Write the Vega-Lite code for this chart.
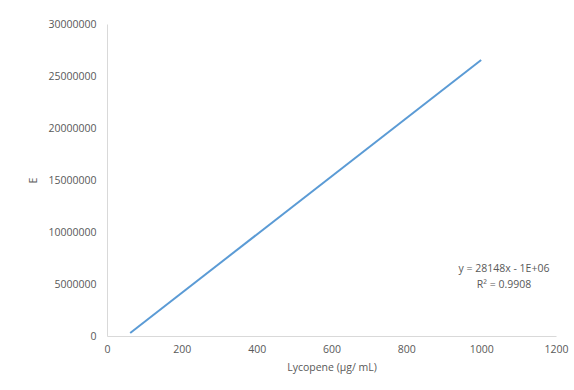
{
  "$schema": "https://vega.github.io/schema/vega-lite/v6.json",
  "width": 449,
  "height": 312,
  "autosize": {"type": "none"},
  "padding": {"left": 107, "top": 24, "right": 18, "bottom": 54},
  "background": "white",
  "config": {
    "view": {"stroke": null},
    "font": "Open Sans",
    "axis": {
      "labelFont": "Open Sans",
      "titleFont": "Open Sans",
      "labelFontSize": 10.5,
      "titleFontSize": 10.5,
      "labelColor": "#595959",
      "titleColor": "#595959",
      "titleFontWeight": "normal",
      "domainColor": "#d9d9d9",
      "ticks": false,
      "grid": false,
      "labelFlush": false,
      "labelOverlap": false
    }
  },
  "datasets": {
    "line": [
      {"lycopene": 62, "E": 290000},
      {"lycopene": 1000, "E": 26540000}
    ],
    "eq": [
      {"lycopene": 1061, "E": 6450000, "label": "y = 28148x - 1E+06"},
      {"lycopene": 1061, "E": 4950000, "label": "R² = 0.9908"}
    ]
  },
  "layer": [
    {
      "data": {"name": "line"},
      "mark": {"type": "line", "color": "#5B9BD5", "strokeWidth": 2},
      "encoding": {
        "x": {
          "field": "lycopene", "type": "quantitative",
          "scale": {"domain": [0, 1200], "nice": false},
          "axis": {"values": [0, 200, 400, 600, 800, 1000, 1200], "title": "Lycopene (µg/ mL)", "labelPadding": 8, "titlePadding": 8, "format": "d"}
        },
        "y": {
          "field": "E", "type": "quantitative",
          "scale": {"domain": [0, 30000000], "nice": false},
          "axis": {"values": [0, 5000000, 10000000, 15000000, 20000000, 25000000, 30000000], "title": "E", "labelPadding": 11, "titlePadding": 9, "format": "d"}
        }
      }
    },
    {
      "data": {"name": "eq"},
      "mark": {"type": "text", "color": "#595959", "fontSize": 10.5, "font": "Open Sans", "align": "center", "baseline": "middle"},
      "encoding": {
        "x": {"field": "lycopene", "type": "quantitative"},
        "y": {"field": "E", "type": "quantitative"},
        "text": {"field": "label"}
      }
    }
  ]
}
